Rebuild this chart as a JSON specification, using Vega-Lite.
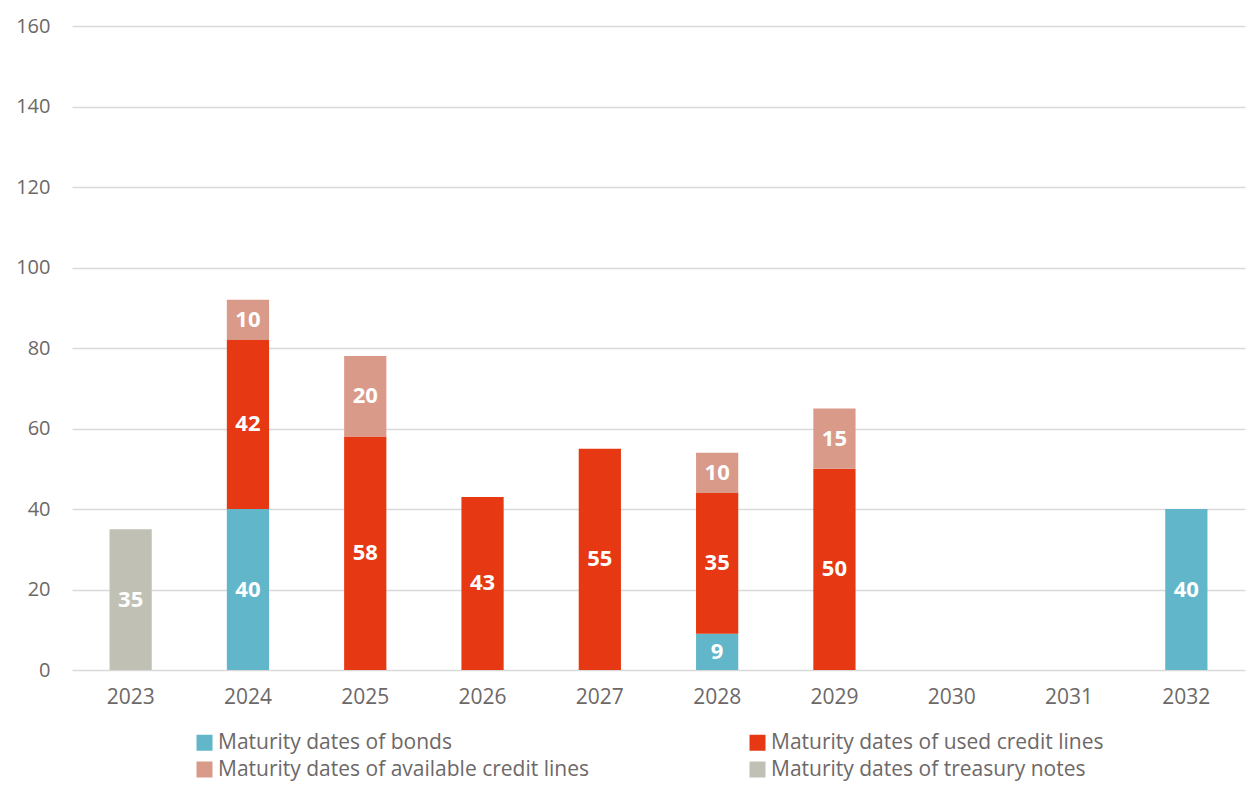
{
  "$schema": "https://vega.github.io/schema/vega-lite/v6.json",
  "width": 1173,
  "height": 644,
  "autosize": {"type": "none"},
  "padding": {"left": 72, "top": 26, "right": 10, "bottom": 121},
  "background": "white",
  "config": {
    "view": {"stroke": null},
    "font": "Open Sans",
    "axis": {"labelFont": "Open Sans", "labelColor": "#6d6868", "labelFontSize": 20, "domain": false, "ticks": false, "title": null, "gridColor": "#d9d9d9", "gridWidth": 1.5}
  },
  "data": {
    "values": [
      {"year": "2023", "series": "Maturity dates of treasury notes", "k": 3, "value": 35},
      {"year": "2024", "series": "Maturity dates of bonds", "k": 0, "value": 40},
      {"year": "2024", "series": "Maturity dates of used credit lines", "k": 1, "value": 42},
      {"year": "2024", "series": "Maturity dates of available credit lines", "k": 2, "value": 10},
      {"year": "2025", "series": "Maturity dates of used credit lines", "k": 1, "value": 58},
      {"year": "2025", "series": "Maturity dates of available credit lines", "k": 2, "value": 20},
      {"year": "2026", "series": "Maturity dates of used credit lines", "k": 1, "value": 43},
      {"year": "2027", "series": "Maturity dates of used credit lines", "k": 1, "value": 55},
      {"year": "2028", "series": "Maturity dates of bonds", "k": 0, "value": 9},
      {"year": "2028", "series": "Maturity dates of used credit lines", "k": 1, "value": 35},
      {"year": "2028", "series": "Maturity dates of available credit lines", "k": 2, "value": 10},
      {"year": "2029", "series": "Maturity dates of used credit lines", "k": 1, "value": 50},
      {"year": "2029", "series": "Maturity dates of available credit lines", "k": 2, "value": 15},
      {"year": "2032", "series": "Maturity dates of bonds", "k": 0, "value": 40}
    ]
  },
  "transform": [
    {"stack": "value", "groupby": ["year"], "sort": [{"field": "k", "order": "ascending"}], "as": ["v0", "v1"]},
    {"calculate": "(datum.v0 + datum.v1) / 2", "as": "mid"}
  ],
  "encoding": {
    "x": {
      "field": "year", "type": "nominal",
      "scale": {"domain": ["2023","2024","2025","2026","2027","2028","2029","2030","2031","2032"], "paddingInner": 0.64, "paddingOuter": 0.32},
      "axis": {"labelAngle": 0, "labelPadding": 16, "labelFontSize": 21, "grid": false}
    }
  },
  "layer": [
    {
      "mark": {"type": "bar"},
      "encoding": {
        "y": {"field": "v0", "type": "quantitative", "scale": {"domain": [0, 160]}, "axis": {"values": [0,20,40,60,80,100,120,140,160], "labelPadding": 22, "grid": true}},
        "y2": {"field": "v1"},
        "color": {
          "field": "series", "type": "nominal",
          "scale": {
            "domain": ["Maturity dates of bonds", "Maturity dates of available credit lines", "Maturity dates of used credit lines", "Maturity dates of treasury notes"],
            "range": ["#62b6c9", "#d99a8a", "#e63812", "#c0c1b4"]
          },
          "legend": {
            "orient": "none", "legendX": 122, "legendY": 706, "direction": "vertical", "columns": 2,
            "title": null, "symbolType": "square", "symbolSize": 256, "symbolStrokeWidth": 0,
            "labelFont": "Open Sans", "labelFontSize": 21, "labelColor": "#6d6868", "labelOffset": 3,
            "rowPadding": 5, "columnPadding": 158, "labelLimit": 600
          }
        }
      }
    },
    {
      "mark": {"type": "text", "color": "white", "fontWeight": "bold", "fontSize": 22, "baseline": "middle", "font": "Open Sans"},
      "encoding": {
        "y": {"field": "mid", "type": "quantitative"},
        "text": {"field": "value", "type": "quantitative"}
      }
    }
  ]
}
